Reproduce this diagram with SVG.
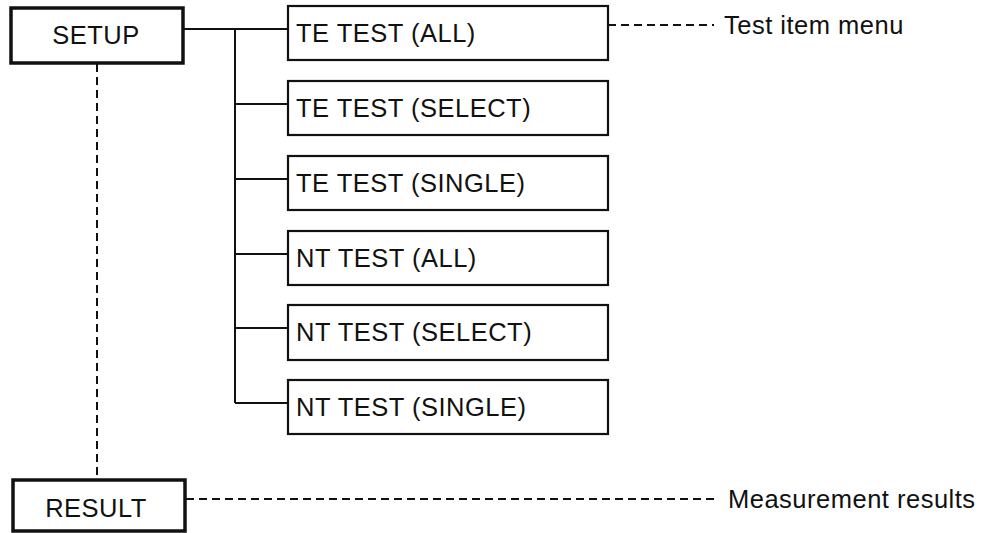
<svg xmlns="http://www.w3.org/2000/svg" width="983" height="533" viewBox="0 0 983 533">
<style>
.t{font-family:"Liberation Sans",Arial,sans-serif;font-size:25.5px;letter-spacing:0.5px;fill:#111}
.main{fill:#fff;stroke:#111;stroke-width:3.5}
.item{fill:#fff;stroke:#111;stroke-width:2.2}
.ln{fill:none;stroke:#111;stroke-width:2}
.dash{fill:none;stroke:#111;stroke-width:2;stroke-dasharray:8 5}
</style>
<rect width="983" height="533" fill="#fff"/>
<g id="connectors">
<path class="ln" d="M183 29H288M235 29V403M235 104H288M235 179H288M235 254H288M235 328H288M235 403H288"/>
<path class="dash" d="M97 64V479"/>
<path class="dash" d="M608 25H714"/>
<path class="dash" d="M186 499H716"/>
</g>
<g id="setup"><rect class="main" x="11" y="8" width="172" height="55"/><text class="t" x="96" y="44" text-anchor="middle">SETUP</text></g>
<g id="result"><rect class="main" x="13" y="480" width="172" height="51"/><text class="t" x="96" y="517" text-anchor="middle">RESULT</text></g>
<g id="te_all"><rect class="item" x="288" y="6" width="320" height="54"/><text class="t" x="296" y="42">TE TEST (ALL)</text></g>
<g id="te_select"><rect class="item" x="288" y="81" width="320" height="54"/><text class="t" x="296" y="117">TE TEST (SELECT)</text></g>
<g id="te_single"><rect class="item" x="288" y="156" width="320" height="54"/><text class="t" x="296" y="192">TE TEST (SINGLE)</text></g>
<g id="nt_all"><rect class="item" x="288" y="231" width="320" height="54"/><text class="t" x="296" y="267">NT TEST (ALL)</text></g>
<g id="nt_select"><rect class="item" x="288" y="305" width="320" height="55"/><text class="t" x="296" y="341">NT TEST (SELECT)</text></g>
<g id="nt_single"><rect class="item" x="288" y="380" width="320" height="54"/><text class="t" x="296" y="416">NT TEST (SINGLE)</text></g>
<g id="label_menu"><text class="t" x="724" y="34">Test item menu</text></g>
<g id="label_results"><text class="t" x="728" y="508">Measurement results</text></g>
</svg>
